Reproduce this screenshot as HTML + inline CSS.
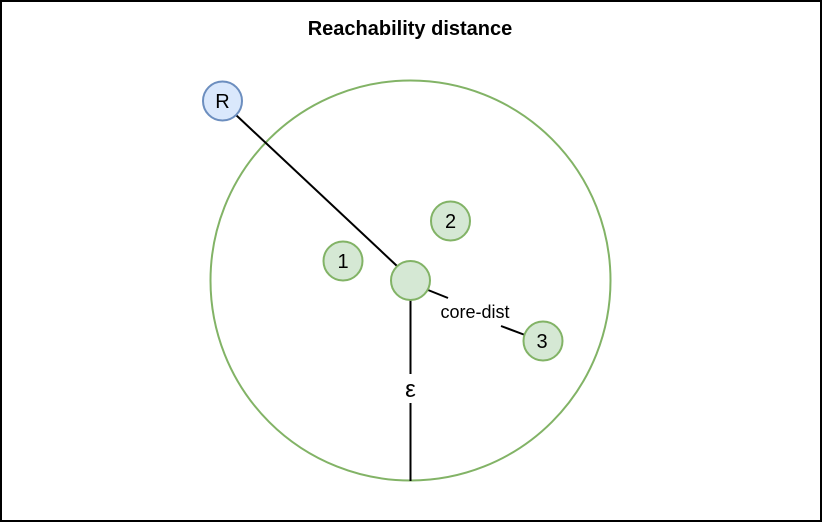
<!DOCTYPE html>
<html><head><style>html,body{margin:0;padding:0;background:#fff}</style></head>
<body>
<svg width="822" height="524" xmlns="http://www.w3.org/2000/svg" font-family="Liberation Sans, Arial, sans-serif">
<rect x="1" y="1" width="820" height="520" fill="#fff" stroke="#000" stroke-width="2"/>
<text x="410" y="35" text-anchor="middle" font-size="20" font-weight="bold">Reachability distance</text>
<circle cx="410.5" cy="280.5" r="200" fill="none" stroke="#82b366" stroke-width="2"/>
<line x1="236" y1="115" x2="397" y2="266" stroke="#000" stroke-width="2"/>
<line x1="428" y1="290" x2="448" y2="298" stroke="#000" stroke-width="2"/>
<line x1="501" y1="326" x2="525" y2="335" stroke="#000" stroke-width="2"/>
<line x1="410.5" y1="300" x2="410.5" y2="374" stroke="#000" stroke-width="2"/>
<line x1="410.5" y1="403" x2="410.5" y2="481" stroke="#000" stroke-width="2"/>
<text x="475" y="318" text-anchor="middle" font-size="18">core-dist</text>
<text x="410.5" y="397" text-anchor="middle" font-size="24">ε</text>
<circle cx="222.5" cy="101" r="19.5" fill="#dae8fc" stroke="#6c8ebf" stroke-width="2"/>
<text x="222.5" y="108" text-anchor="middle" font-size="20">R</text>
<circle cx="410.5" cy="280.5" r="19.5" fill="#d5e8d4" stroke="#82b366" stroke-width="2"/>
<circle cx="343" cy="261" r="19.5" fill="#d5e8d4" stroke="#82b366" stroke-width="2"/>
<text x="343" y="268" text-anchor="middle" font-size="20">1</text>
<circle cx="450.5" cy="221" r="19.5" fill="#d5e8d4" stroke="#82b366" stroke-width="2"/>
<text x="450.5" y="228" text-anchor="middle" font-size="20">2</text>
<circle cx="543" cy="341" r="19.5" fill="#d5e8d4" stroke="#82b366" stroke-width="2"/>
<text x="542" y="348" text-anchor="middle" font-size="20">3</text>
</svg>
</body></html>
